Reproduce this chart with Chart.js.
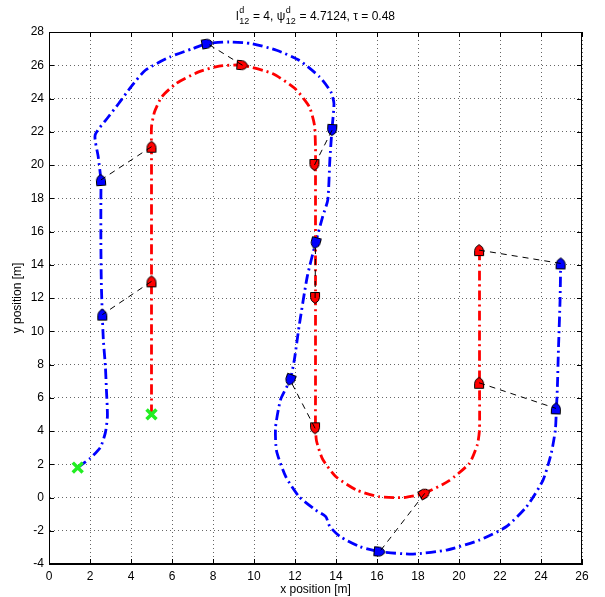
<!DOCTYPE html>
<html>
<head>
<meta charset="utf-8">
<script src="https://cdn.jsdelivr.net/npm/chart.js@4.4.0/dist/chart.umd.min.js"></script>
<style>
html, body { margin: 0; padding: 0; background: #fff; }
canvas { display: block; }
</style>
</head>
<body>
<canvas id="formationChart" width="605" height="597"></canvas>
<script>
// axis ranges / ticks
var xMin = 0, xMax = 26, xStep = 2;
var yMin = -4, yMax = 28, yStep = 2;

// leader (red) trajectory
var leaderPath = [[5,5],[5,8],[5,11],[5,13],[5,16],[5,19],[5,21],[5,22.3],[5.15,23.2],[5.5,24.1],[6.2,24.9],
    [7.3,25.6],[8.3,25.95],[9.4,26.0],[10.9,25.5],[12.0,24.6],[12.7,23.5],[12.95,22.4],[13,21],[13,20],
    [13,17],[13,14],[13,12],[13,9],[13,6],[13,4.2],[13.05,3.4],[13.35,2.3],[14.0,1.25],[15.0,0.45],
    [16.1,0.05],[17.3,0.0],[18.3,0.25],[19.5,1.0],[20.5,2.05],[20.9,3.2],[21,4.1],[21,6.9],[21,10],
    [21,13],[21,14.9]];

// follower (blue) trajectory
var followerPath = [[1.4,1.8],[2.0,2.35],[2.5,3.0],[2.75,3.9],[2.85,4.9],[2.8,6.5],[2.75,7.9],[2.65,9.5],
    [2.6,11],[2.55,13],[2.53,15.5],[2.53,17.9],[2.53,19.1],[2.4,20.5],[2.25,21.8],[2.9,22.9],[3.4,23.7],
    [4.0,24.7],[4.7,25.7],[5.9,26.5],[7.0,27.0],[7.7,27.3],[8.8,27.4],[9.9,27.3],[11.1,26.9],[12.2,26.3],
    [13.2,25.3],[13.75,24.4],[13.9,23.7],[13.8,22.1],[13.7,20.3],[13.6,17.9],[13.35,16.9],[13.0,15.3],
    [12.6,13.3],[12.2,10.3],[11.97,8.3],[11.76,7.07],[11.3,5.9],[11.05,4.2],[11.1,2.8],[11.55,1.25],
    [12.2,0.05],[13.0,-0.75],[13.5,-1.15],[13.7,-1.75],[14.2,-2.35],[15.15,-2.95],[16.13,-3.26],
    [17.75,-3.4],[19.4,-3.16],[21.0,-2.56],[22.3,-1.76],[23.3,-0.55],[24.1,1.05],[24.5,2.66],[24.7,4.06],
    [24.75,5.3],[24.8,6.66],[24.85,8.87],[24.93,11.88],[24.96,14.08]];

// vehicle snapshots (same instants for both), heading in degrees (0 = up, clockwise)
var leaderMarks = [[5,13],[5,21.1],[9.44,26],[12.95,20],[12.98,12],[12.98,4.16],[18.33,0.25],[20.98,6.9],[20.98,14.88]];
var leaderHeading = [0, 0, 95, 180, 180, 180, 60, 0, 0];
var followerMarks = [[2.6,11],[2.53,19.1],[7.73,27.3],[13.81,22.1],[13.0,15.3],[11.76,7.07],[16.13,-3.26],[24.73,5.36],[24.96,14.08]];
var followerHeading = [0, -4, 80, 183, 195, 200, 95, 2, 1];

// start positions
var startPoints = [[5,5],[1.4,1.8]];

var fontFam = "'Liberation Sans', Arial, Helvetica, sans-serif";

function toXY(arr) {
    return arr.map(function(p){ return {x: p[0], y: p[1]}; });
}

// little vehicle glyph, pointing up
function makeVehicle(fill) {
    var c = document.createElement('canvas');
    c.width = 14; c.height = 14;
    var g = c.getContext('2d');
    g.translate(7, 7);
    g.beginPath();
    g.moveTo(-4.5, 5.5);
    g.lineTo(-4.5, 0.5);
    g.quadraticCurveTo(-4.5, -3, 0, -5.5);
    g.quadraticCurveTo(4.5, -3, 4.5, 0.5);
    g.lineTo(4.5, 5.5);
    g.closePath();
    g.fillStyle = fill;
    g.fill();
    g.strokeStyle = '#000';
    g.lineWidth = 1;
    g.stroke();
    return c;
}

var datasets = [];
datasets.push({
    label: 'leader', data: toXY(leaderPath), showLine: true, borderColor: '#ff0000',
    borderWidth: 2.8, borderDash: [10, 4, 2, 4], pointRadius: 0, tension: 0.2, order: 5
});
datasets.push({
    label: 'follower', data: toXY(followerPath), showLine: true, borderColor: '#0000ff',
    borderWidth: 2.8, borderDash: [10, 4, 2, 4], pointRadius: 0, tension: 0.2, order: 5
});
datasets.push({
    label: 'leader vehicle', data: toXY(leaderMarks), showLine: false,
    pointStyle: makeVehicle('#ff0000'), pointRotation: leaderHeading, pointRadius: 6, order: 4
});
datasets.push({
    label: 'follower vehicle', data: toXY(followerMarks), showLine: false,
    pointStyle: makeVehicle('#0000ff'), pointRotation: followerHeading, pointRadius: 6, order: 4
});
// dashed link between each pair of snapshots
for (var i = 0; i < leaderMarks.length; i++) {
    datasets.push({
        label: 'link' + i, data: toXY([leaderMarks[i], followerMarks[i]]), showLine: true,
        borderColor: '#000', borderWidth: 1, borderDash: [6, 5], pointRadius: 0, order: 3
    });
}
datasets.push({
    label: 'start', data: toXY(startPoints), showLine: false, pointStyle: 'crossRot',
    pointRadius: 7, borderColor: '#22ee22', pointBorderWidth: 3.5, order: 1
});

// title with sub/superscripts
var titleParts = [
    {t: 'l'}, {sup: 'd', sub: '12'}, {t: ' = 4, \u03c8'}, {sup: 'd', sub: '12'}, {t: ' = 4.7124, \u03c4 = 0.48'}
];
var titlePlugin = {
    id: 'texTitle',
    afterDraw: function(chart) {
        var ctx = chart.ctx, area = chart.chartArea;
        ctx.save();
        ctx.fillStyle = '#000';
        ctx.textBaseline = 'alphabetic';
        var big = '12px ' + fontFam, small = '9px ' + fontFam;
        var widths = titleParts.map(function(p) {
            if (p.t) { ctx.font = big; return ctx.measureText(p.t).width; }
            ctx.font = small;
            return Math.max(ctx.measureText(p.sup).width, ctx.measureText(p.sub).width) + 1;
        });
        var total = widths.reduce(function(a, b){ return a + b; }, 0);
        var x = (area.left + area.right) / 2 - total / 2;
        var base = 20;
        titleParts.forEach(function(p, k) {
            if (p.t) {
                ctx.font = big; ctx.fillText(p.t, x, base);
            } else {
                ctx.font = small;
                ctx.fillText(p.sup, x + 0.5, base - 7);
                ctx.fillText(p.sub, x + 0.5, base + 4);
            }
            x += widths[k];
        });
        ctx.restore();
    }
};

// box round the plot with inward ticks on all sides
var boxPlugin = {
    id: 'boxTicks',
    afterDatasetsDraw: function(chart) {
        var ctx = chart.ctx, a = chart.chartArea;
        var xs = chart.scales.x, ys = chart.scales.y;
        ctx.save();
        ctx.strokeStyle = '#000';
        ctx.lineWidth = 1;
        ctx.strokeRect(a.left + 0.5, a.top + 0.5, a.right - a.left - 1, a.bottom - a.top - 1);
        ctx.beginPath();
        xs.ticks.forEach(function(t) {
            var px = Math.round(xs.getPixelForValue(t.value)) + 0.5;
            ctx.moveTo(px, a.bottom); ctx.lineTo(px, a.bottom - 5);
            ctx.moveTo(px, a.top); ctx.lineTo(px, a.top + 5);
        });
        ys.ticks.forEach(function(t) {
            var py = Math.round(ys.getPixelForValue(t.value)) + 0.5;
            ctx.moveTo(a.left, py); ctx.lineTo(a.left + 5, py);
            ctx.moveTo(a.right, py); ctx.lineTo(a.right - 5, py);
        });
        ctx.stroke();
        ctx.restore();
    }
};

var ctx = document.getElementById('formationChart').getContext('2d');
var formationChart = new Chart(ctx, {
    type: 'scatter',
    data: { datasets: datasets },
    options: {
        responsive: false,
        animation: false,
        layout: { padding: { top: 32, right: 23, left: 0, bottom: 0 } },
        plugins: { legend: { display: false }, tooltip: { enabled: false }, title: { display: false } },
        scales: {
            x: {
                type: 'linear', min: xMin, max: xMax,
                ticks: { stepSize: xStep, maxRotation: 0, autoSkip: false, color: '#000', padding: 5,
                         font: { family: fontFam, size: 12 } },
                grid: { color: '#666', drawTicks: false, lineWidth: 1 },
                border: { display: true, color: '#000', dash: [1, 3] },
                title: { display: true, text: 'x position [m]', color: '#000', padding: { top: 0, bottom: 0 },
                         font: { family: fontFam, size: 12 } },
                afterFit: function(s) { s.height = 33; }
            },
            y: {
                type: 'linear', min: yMin, max: yMax,
                ticks: { stepSize: yStep, autoSkip: false, color: '#000', padding: 5,
                         font: { family: fontFam, size: 12 } },
                grid: { color: '#666', drawTicks: false, lineWidth: 1 },
                border: { display: true, color: '#000', dash: [1, 3] },
                title: { display: true, text: 'y position [m]', color: '#000', padding: { top: 10, bottom: 0 },
                         font: { family: fontFam, size: 12 } },
                afterFit: function(s) { s.width = 49; }
            }
        }
    },
    plugins: [titlePlugin, boxPlugin]
});
</script>
</body>
</html>
